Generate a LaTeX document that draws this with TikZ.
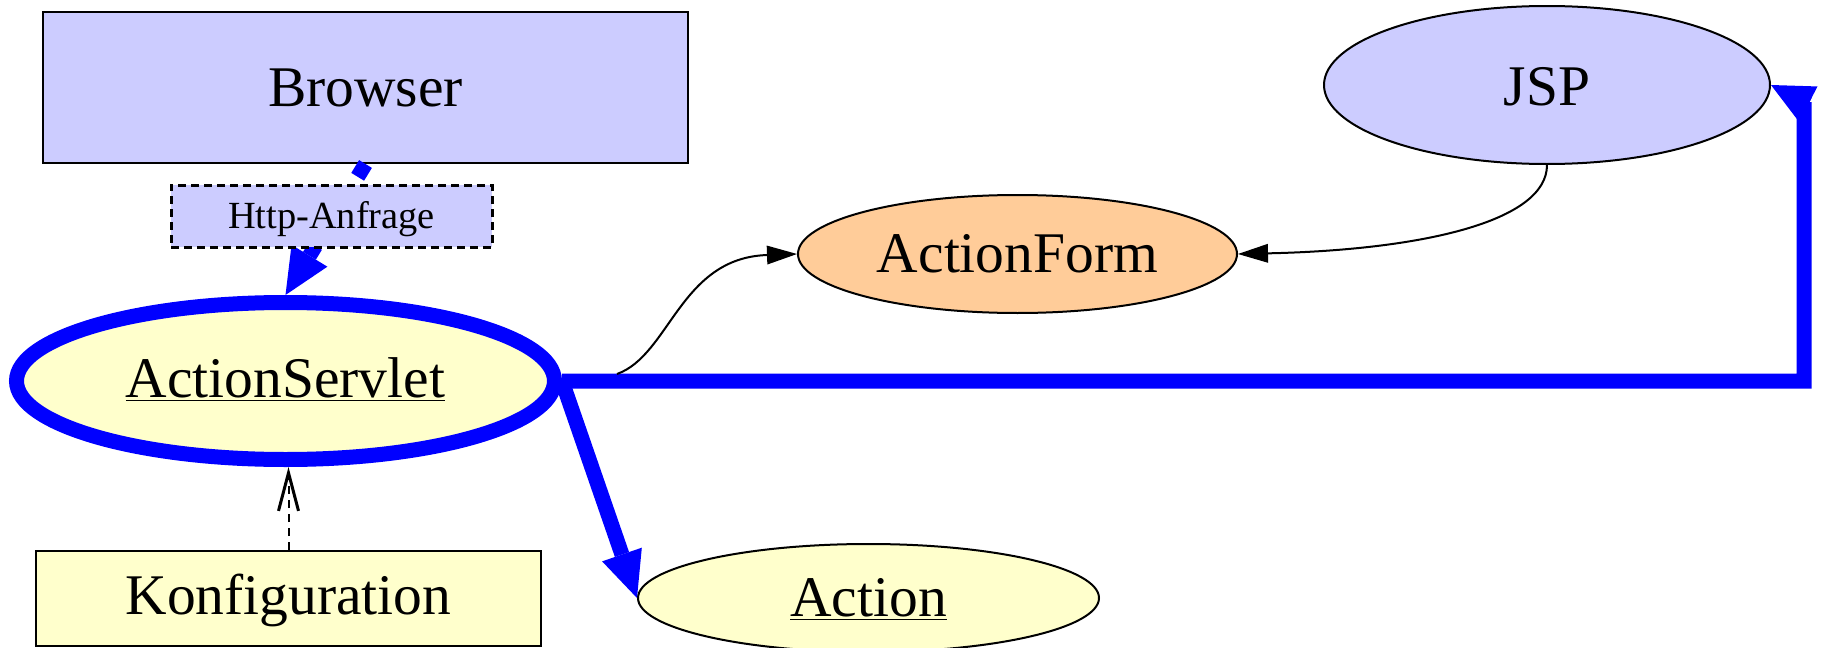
\documentclass[tikz,border=0pt]{standalone}
\usepackage{fontspec}
\setmainfont{Liberation Serif}
\usetikzlibrary{shapes.geometric,arrows.meta}
\definecolor{lav}{HTML}{CCCCFF}
\definecolor{cream}{HTML}{FFFFCC}
\definecolor{peach}{HTML}{FFCC99}
\definecolor{edgeblue}{HTML}{0000FF}
\tikzset{
  bignode/.style={font=\fontsize{28.75}{34}\selectfont, inner sep=0pt, text height=20pt, text depth=2pt},
  boxnode/.style={bignode, rectangle, draw=black, line width=1pt},
  ellnode/.style={bignode, ellipse, draw=black, line width=1pt},
  labelbox/.style={rectangle, draw=black, fill=lav, line width=1.5pt, dash pattern=on 4pt off 2.5pt,
    inner sep=0pt, font=\fontsize{19.2}{23}\selectfont, text height=14pt, text depth=2pt},
  bluethick/.style={draw=edgeblue, line width=7.5pt, line join=miter},
  bluetip/.style={-{Triangle[length=23pt,width=21pt,line width=0pt]}},
  jsptip/.style={-{Triangle[length=21pt,width=20pt,line width=0pt]}},
  thinedge/.style={draw=black, line width=1pt, -{Triangle[length=15pt,width=9.5pt,line width=0pt]}},
  configedge/.style={draw=black, line width=1pt, dash pattern=on 4pt off 3pt,
    -{Straight Barb[length=19pt,width=10pt,line width=1.5pt]}},
}
\begin{document}
\begin{tikzpicture}[x=0.5pt,y=-0.5pt]
\useasboundingbox (0,0) rectangle (1828,648);
% nodes
\node[boxnode, fill=lav, minimum width=322.5pt, minimum height=75.5pt, text height=21pt] (B) at (365.5,87.5) {Browser};
\node[bignode, ellipse, draw=edgeblue, line width=7.5pt, fill=cream, minimum width=269pt, minimum height=78.5pt, text height=18pt] (AS) at (285.5,381) {\underline{ActionServlet}};
\node[ellnode, fill=peach, minimum width=219.5pt, minimum height=59pt] (AF) at (1017.5,254) {ActionForm};
\node[ellnode, fill=lav, minimum width=223pt, minimum height=79pt, text height=22pt] (JSP) at (1547,85) {JSP};
\node[ellnode, fill=cream, minimum width=230.5pt, minimum height=54pt] (Act) at (868.5,598) {\underline{Action}};
\node[boxnode, fill=cream, minimum width=252.5pt, minimum height=47.5pt, text height=17.5pt] (K) at (288.5,598.5) {Konfiguration};
\coordinate (afs) at (617,374);
% edges
\draw[bluethick, bluetip, dash pattern=on 7.5pt off 8.5pt] (B.south) -- (AS.north);
\draw[configedge] (K.north) -- (K.north |- AS.south);
\draw[bluethick, bluetip] (AS.east) -- (Act.west);
\draw[bluethick, jsptip] (AS.east) -- (1804,381) -- (1804,102) -- (JSP.east);
\draw[thinedge] (afs) .. controls (670,355) and (680,258) .. (AF.west);
\draw[thinedge] (JSP.south) .. controls (1547,222) and (1420,250) .. (AF.east);
% edge label
\node[labelbox, minimum width=160.5pt, minimum height=31pt] (L) at (331.5,216) {Http-Anfrage};
\end{tikzpicture}
\end{document}
